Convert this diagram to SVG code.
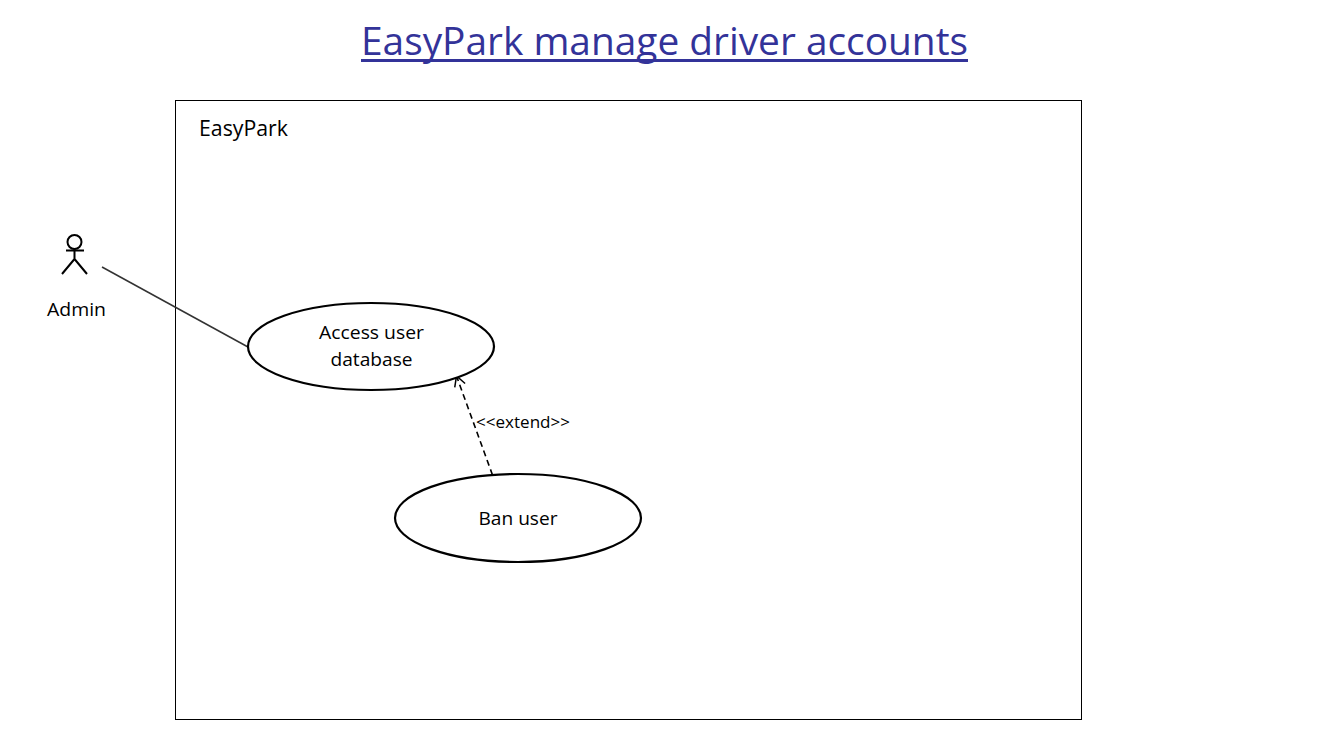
<svg xmlns="http://www.w3.org/2000/svg" width="1326" height="742" viewBox="0 0 1326 742">
<style>
text{font-family:"Open Sans","Noto Sans","Liberation Sans",sans-serif;fill:#000;text-anchor:middle}
.lbl{font-size:19px}
.uc{fill:#fff;stroke:#000;stroke-width:2.2}
.act{fill:none;stroke:#000;stroke-width:2}
.title{font-size:39px;fill:#333399}
</style>
<defs>
<marker id="open" markerUnits="userSpaceOnUse" markerWidth="14" markerHeight="14" refX="11" refY="6.500" orient="auto"><path d="M1 1L11 6.500L1 12" fill="none" stroke="#000" stroke-width="1.500"/></marker>
</defs>
<rect width="1326" height="742" fill="#fff"/>
<g id="title">
<text class="title" x="664.500" y="55" textLength="607" lengthAdjust="spacingAndGlyphs">EasyPark manage driver accounts</text>
<rect x="361" y="59" width="607" height="3" fill="#333399"/>
</g>
<g id="system">
<rect x="175.500" y="100.500" width="906" height="619" fill="#fff" stroke="#000" stroke-width="1"/>
<text x="243.500" y="136" style="font-size:21px" textLength="89" lengthAdjust="spacingAndGlyphs">EasyPark</text>
</g>
<g id="connectors">
<path d="M102 267L248 347" fill="none" stroke="#333" stroke-width="1.500"/>
<path d="M492.500 475L456.500 376" fill="none" stroke="#000" stroke-width="1.600" stroke-dasharray="6 4" marker-end="url(#open)"/>
<text x="523" y="428" style="font-size:16.500px" textLength="94" lengthAdjust="spacingAndGlyphs">&lt;&lt;extend&gt;&gt;</text>
</g>
<g id="admin">
<circle class="act" cx="74.500" cy="242" r="7"/>
<path class="act" d="M74.500 249V259M66 250.500H84M74.500 259L62 274M74.500 259L87 274"/>
<text class="lbl" x="76.500" y="316" textLength="59" lengthAdjust="spacingAndGlyphs">Admin</text>
</g>
<g id="access-user-database">
<ellipse class="uc" cx="371" cy="346.500" rx="123" ry="43.500"/>
<text class="lbl" x="371.500" y="339" textLength="105" lengthAdjust="spacingAndGlyphs">Access user</text>
<text class="lbl" x="371.500" y="366" textLength="82" lengthAdjust="spacingAndGlyphs">database</text>
</g>
<g id="ban-user">
<ellipse class="uc" cx="518" cy="518" rx="123" ry="44"/>
<text class="lbl" x="518" y="525" textLength="79" lengthAdjust="spacingAndGlyphs">Ban user</text>
</g>
</svg>
